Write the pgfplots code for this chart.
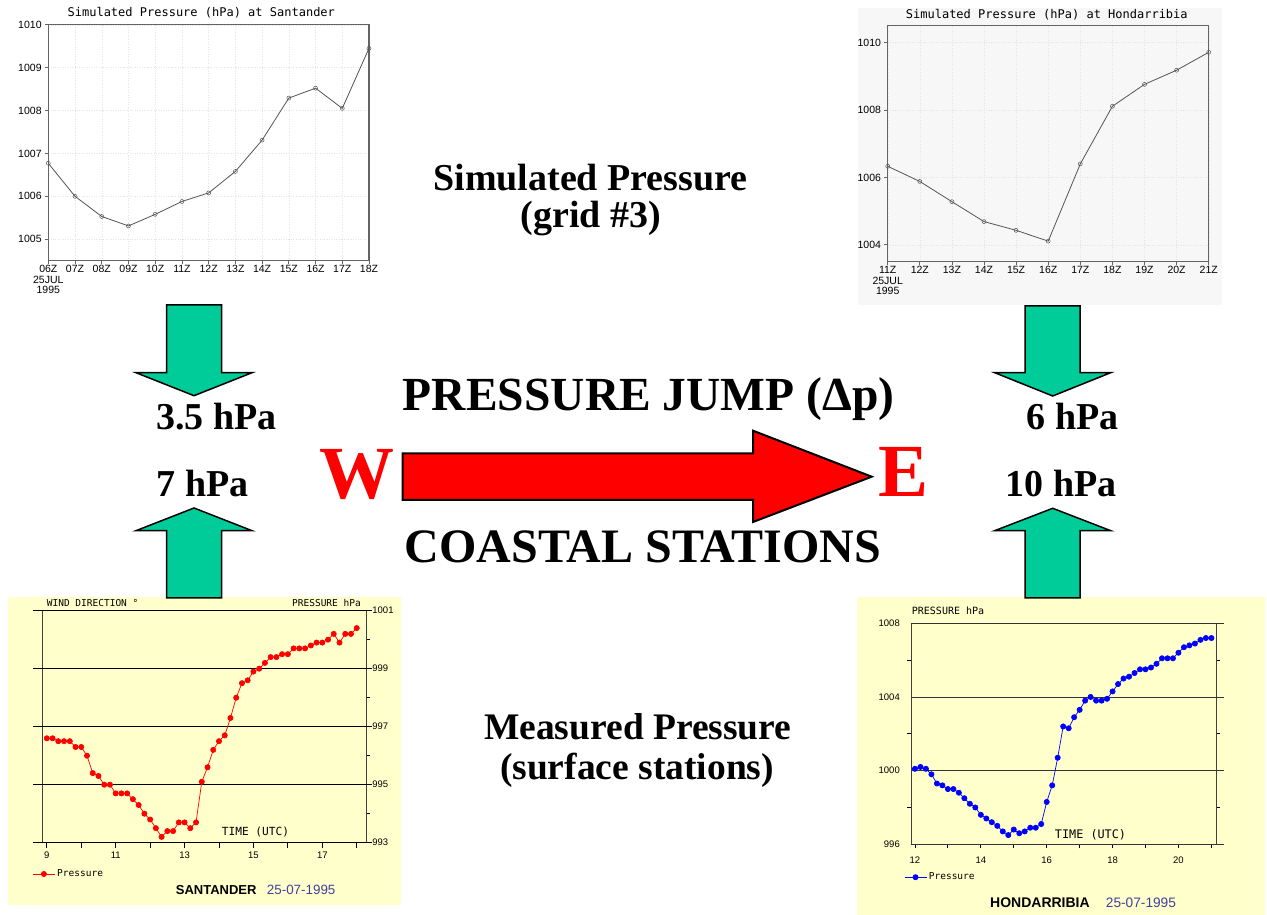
\documentclass[border=0pt]{standalone}
\usepackage{fontspec}
\setmainfont{Liberation Serif}
\newfontfamily\monof{DejaVu Sans Mono}
\newfontfamily\sansf{Liberation Sans}
\usepackage{pgfplots}
\pgfplotsset{compat=1.18}
\usepackage{pgfplotstable}

\definecolor{arrowgreen}{RGB}{0,204,153}
\definecolor{panelyellow}{RGB}{255,255,204}
\definecolor{panelgray}{RGB}{247,247,247}
\definecolor{axisgray}{RGB}{100,100,100}
\definecolor{datagray}{RGB}{85,85,85}
\definecolor{dateblue}{RGB}{64,64,160}

\newcommand\ticklbl{\sansf\fontsize{10.5}{10.5}\selectfont}
\newcommand\smallmono{\monof\fontsize{9.5}{10}\selectfont}
\newcommand\bigtxt[1]{\bfseries\fontsize{#1}{#1}\selectfont}

% simulated pressure, Santander (hour, hPa)
\pgfplotstableread{
t p
6 1006.77
7 1006.00
8 1005.53
9 1005.31
10 1005.58
11 1005.88
12 1006.08
13 1006.58
14 1007.31
15 1008.29
16 1008.52
17 1008.05
18 1009.45
}\simsan

% simulated pressure, Hondarribia
\pgfplotstableread{
t p
11 1006.33
12 1005.88
13 1005.28
14 1004.69
15 1004.43
16 1004.11
17 1006.40
18 1008.11
19 1008.76
20 1009.18
21 1009.71
}\simhon

% measured pressure, Santander (10 min data)
\pgfplotstableread{
t p
9.000 996.6
9.167 996.6
9.333 996.5
9.500 996.5
9.667 996.5
9.833 996.3
10.000 996.3
10.167 996.0
10.333 995.4
10.500 995.3
10.667 995.0
10.833 995.0
11.000 994.7
11.167 994.7
11.333 994.7
11.500 994.5
11.667 994.3
11.833 994.0
12.000 993.8
12.167 993.5
12.333 993.2
12.500 993.4
12.667 993.4
12.833 993.7
13.000 993.7
13.167 993.5
13.333 993.7
13.500 995.1
13.667 995.6
13.833 996.2
14.000 996.5
14.167 996.7
14.333 997.3
14.500 998.0
14.667 998.5
14.833 998.6
15.000 998.9
15.167 999.0
15.333 999.2
15.500 999.4
15.667 999.4
15.833 999.5
16.000 999.5
16.167 999.7
16.333 999.7
16.500 999.7
16.667 999.8
16.833 999.9
17.000 999.9
17.167 1000.0
17.333 1000.2
17.500 999.9
17.667 1000.2
17.833 1000.2
18.000 1000.4
}\meassan

% measured pressure, Hondarribia
\pgfplotstableread{
t p
12.000 1000.1
12.167 1000.2
12.333 1000.1
12.500 999.8
12.667 999.3
12.833 999.2
13.000 999.0
13.167 999.0
13.333 998.8
13.500 998.5
13.667 998.2
13.833 998.0
14.000 997.6
14.167 997.4
14.333 997.2
14.500 997.0
14.667 996.7
14.833 996.5
15.000 996.8
15.167 996.6
15.333 996.7
15.500 996.9
15.667 996.9
15.833 997.1
16.000 998.3
16.167 999.2
16.333 1000.7
16.500 1002.4
16.667 1002.3
16.833 1002.9
17.000 1003.3
17.167 1003.8
17.333 1004.0
17.500 1003.8
17.667 1003.8
17.833 1003.9
18.000 1004.3
18.167 1004.7
18.333 1005.0
18.500 1005.1
18.667 1005.3
18.833 1005.5
19.000 1005.5
19.167 1005.6
19.333 1005.8
19.500 1006.1
19.667 1006.1
19.833 1006.1
20.000 1006.4
20.167 1006.7
20.333 1006.8
20.500 1006.9
20.667 1007.1
20.833 1007.2
21.000 1007.2
}\meashon

\pgfplotsset{
  simstyle/.style={
    anchor=south west, scale only axis,
    xtick pos=bottom, ytick pos=left, tick align=outside,
    major tick length=3.5pt,
    axis line style={draw=axisgray, line width=1.3pt},
    tick style={axisgray, line width=0.8pt},
    xmajorgrids, ymajorgrids, grid style={dotted, gray!22},
    tick label style={font=\ticklbl},
    xticklabel style={align=center, inner sep=1pt},
    yticklabel style={inner sep=1pt, xshift=-2pt},
    /pgf/number format/1000 sep={},
    /pgf/number format/assume math mode=true,
  },
  measstyle/.style={
    anchor=south west, scale only axis, clip=false,
    tick align=outside,
    axis line style={draw=black!75, line width=1pt},
    tick style={black, line width=0.8pt},
    tick label style={font=\sansf\fontsize{9.5}{10}\selectfont},
    /pgf/number format/1000 sep={},
    /pgf/number format/assume math mode=true,
    legend style={draw=none, fill=none, inner sep=0pt, font=\smallmono},
    legend image code/.code={\draw[mark repeat=2,mark phase=2,##1] plot coordinates {(0pt,0pt) (11pt,0pt) (22pt,0pt)};},
  },
}

\begin{document}
\begin{tikzpicture}
\useasboundingbox (0pt,0pt) rectangle (1267pt,915pt);
\begin{scope}[x=1pt,y=1pt]
\fill[white] (0,0) rectangle (1267,915);
\fill[panelgray] (858,610) rectangle (1222,907);
\fill[panelyellow] (8,10) rectangle (401,318);
\fill[panelyellow] (857,0) rectangle (1265,318);
\end{scope}

% ---- simulated, Santander
\begin{axis}[simstyle,
  at={(48.3pt,654.3pt)}, width=320.7pt, height=236pt,
  xmin=6, xmax=18, ymin=1004.5, ymax=1010,
  xtick={6,...,18},
  xticklabels={{06Z\\25JUL\\1995},07Z,08Z,09Z,10Z,11Z,12Z,13Z,14Z,15Z,16Z,17Z,18Z},
  ytick={1005,...,1010}]
\addplot[color=datagray, line width=0.8pt, mark=o, mark size=2pt,
  mark options={line width=0.5pt, fill=white}] table {\simsan};
\end{axis}

% ---- simulated, Hondarribia
\begin{axis}[simstyle,
  at={(887.7pt,653.3pt)}, width=321pt, height=236pt,
  xmin=11, xmax=21, ymin=1003.5, ymax=1010.5,
  xtick={11,...,21},
  xticklabels={{11Z\\25JUL\\1995},12Z,13Z,14Z,15Z,16Z,17Z,18Z,19Z,20Z,21Z},
  ytick={1004,1006,1008,1010}]
\addplot[color=datagray, line width=0.8pt, mark=o, mark size=2pt,
  mark options={line width=0.5pt, fill=white}] table {\simhon};
\end{axis}

% ---- measured, Santander
\begin{axis}[measstyle,
  at={(42.7pt,72.3pt)}, width=324pt, height=232pt,
  xmin=8.88, xmax=18.29, ymin=993, ymax=1001,
  xtick={9,...,18}, xticklabels={9,,11,,13,,15,,17,},
  ytick={993,995,997,999,1001}, minor ytick={994,996,998,1000},
  xtick pos=bottom, ytick pos=right,
  major tick length=5.5pt, minor tick length=3pt,
  yticklabel style={inner sep=1pt, xshift=-1pt},
  legend style={at={(-0.032,-0.135)}, anchor=west}]
\pgfplotsinvokeforeach{993,995,997,999,1001}{
  \draw[black, line width=0.9pt] (axis cs:8.6,#1) -- (axis cs:18.43,#1);
}
\addplot[color=red, line width=0.7pt, mark=*, mark size=2.6pt] table {\meassan};
\addlegendentry{Pressure}
\end{axis}

% ---- measured, Hondarribia
\begin{axis}[measstyle,
  at={(911pt,70.7pt)}, width=305pt, height=221pt,
  xmin=11.88, xmax=21.14, ymin=996, ymax=1008,
  xtick={12,...,21}, xticklabels={12,,14,,16,,18,,20,},
  ytick={996,1000,1004,1008}, minor ytick={998,1002,1006},
  xtick pos=bottom, ytick pos=both, yticklabel pos=left,
  major tick length=4pt, minor tick length=4pt,
  every major y tick/.append style={draw=none},
  yticklabel style={inner sep=1pt, xshift=-6pt},
  xticklabel style={yshift=-5pt},
  legend style={at={(-0.023,-0.149)}, anchor=west}]
\pgfplotsinvokeforeach{996,1000,1004,1008}{
  \draw[black!80, line width=0.9pt] (axis cs:11.88,#1) -- (axis cs:21.38,#1);
}
\addplot[color=blue, line width=0.7pt, mark=*, mark size=2.6pt] table {\meashon};
\addlegendentry{Pressure}
\end{axis}

\begin{scope}[x=1pt,y=1pt]
% chart titles and labels
\node[font=\monof\fontsize{12}{12}\selectfont, anchor=base] at (201.3,898.3) {Simulated Pressure (hPa) at Santander};
\node[font=\monof\fontsize{12}{12}\selectfont, anchor=base] at (1046.8,896.7) {Simulated Pressure (hPa) at Hondarribia};
\node[font=\smallmono, anchor=west, inner sep=0pt] at (46.7,312) {WIND DIRECTION °};
\node[font=\smallmono, anchor=east, inner sep=0pt] at (361,312) {PRESSURE hPa};
\node[font=\monof\fontsize{11.2}{12}\selectfont, inner sep=0pt] at (255.5,83.3) {TIME (UTC)};
\node[font=\sansf\bfseries\fontsize{13}{13}\selectfont, anchor=base west, inner sep=0pt] at (175.7,20) {SANTANDER};
\node[font=\sansf\fontsize{13.4}{14}\selectfont, anchor=base west, inner sep=0pt, text=dateblue] at (266.7,20) {25-07-1995};
\node[font=\monof\fontsize{10}{11}\selectfont, anchor=west, inner sep=0pt] at (911.7,304.3) {PRESSURE hPa};
\node[font=\monof\fontsize{11.8}{12}\selectfont, inner sep=0pt] at (1090.5,80) {TIME (UTC)};
\node[font=\sansf\bfseries\fontsize{14}{14}\selectfont, anchor=base west, inner sep=0pt] at (990,7.7) {HONDARRIBIA};
\node[font=\sansf\fontsize{13.7}{14}\selectfont, anchor=base west, inner sep=0pt, text=dateblue] at (1105.7,7.7) {25-07-1995};

% green arrows
\filldraw[fill=arrowgreen, draw=black, line width=1.5pt, line join=miter]
  (166.5,610) -- (221.5,610) -- (221.5,542.3) -- (252,542.3) -- (194,519.3) -- (136,542.3) -- (166.5,542.3) -- cycle;
\filldraw[fill=arrowgreen, draw=black, line width=1.5pt, line join=miter]
  (166.5,317) -- (221.5,317) -- (221.5,384.3) -- (252,384.3) -- (194,407) -- (136,384.3) -- (166.5,384.3) -- cycle;
\filldraw[fill=arrowgreen, draw=black, line width=1.5pt, line join=miter]
  (1025,609) -- (1080,609) -- (1080,542.3) -- (1110.7,542.3) -- (1052.7,519) -- (994.7,542.3) -- (1025,542.3) -- cycle;
\filldraw[fill=arrowgreen, draw=black, line width=1.5pt, line join=miter]
  (1025,317) -- (1080,317) -- (1080,384.3) -- (1110.7,384.3) -- (1052.7,406.7) -- (994.7,384.3) -- (1025,384.3) -- cycle;
% red arrow
\filldraw[fill=red, draw=black, line width=2pt, line join=miter]
  (402.7,461.7) -- (753,461.7) -- (753,484.3) -- (871.7,438.3) -- (753,393) -- (753,415) -- (402.7,415) -- cycle;

% big texts
\node[font=\bigtxt{38}, anchor=base, inner sep=0pt] at (590.5,724.3) {Simulated Pressure};
\node[font=\bigtxt{38}, anchor=base, inner sep=0pt] at (591,687) {(grid \#3)};
\node[font=\bigtxt{37.5}, anchor=base, inner sep=0pt] at (637.8,175) {Measured Pressure};
\node[font=\bigtxt{37.5}, anchor=base, inner sep=0pt] at (637,135) {(surface stations)};
\node[font=\bigtxt{47.5}, anchor=base, inner sep=0pt] at (648.7,504) {PRESSURE JUMP (Δp)};
\node[font=\bigtxt{48}, anchor=base, inner sep=0pt] at (643,352) {COASTAL STATIONS};
\node[font=\bigtxt{75}, anchor=base, inner sep=0pt, text=red] at (356.5,416) {W};
\node[font=\bigtxt{75}, anchor=base, inner sep=0pt, text=red] at (904,418) {E};
\node[font=\bigtxt{38}, anchor=base, inner sep=0pt] at (216.5,485) {3.5 hPa};
\node[font=\bigtxt{38}, anchor=base, inner sep=0pt] at (202.7,418) {7 hPa};
\node[font=\bigtxt{38}, anchor=base, inner sep=0pt] at (1072.8,485.7) {6 hPa};
\node[font=\bigtxt{38}, anchor=base, inner sep=0pt] at (1061,418.3) {10 hPa};
\end{scope}
\end{tikzpicture}
\end{document}
